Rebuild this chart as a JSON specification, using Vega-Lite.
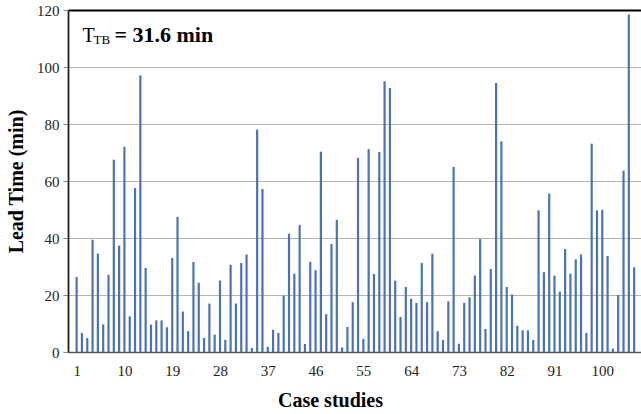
{
  "$schema": "https://vega.github.io/schema/vega-lite/v6.json",
  "width": 573,
  "height": 342,
  "autosize": {"type": "none"},
  "padding": {"left": 68, "top": 10, "right": 0, "bottom": 62},
  "background": "white",
  "config": {
    "view": {"stroke": null},
    "font": "Times New Roman, Liberation Serif, serif",
    "axis": {"labelFont": "Times New Roman, Liberation Serif, serif", "titleFont": "Times New Roman, Liberation Serif, serif"},
    "text": {"font": "Times New Roman, Liberation Serif, serif"}
  },
  "datasets": {
    "cases": [
      {"case": 1, "lead": 26.3}, {"case": 2, "lead": 6.7}, {"case": 3, "lead": 4.9}, {"case": 4, "lead": 39.4},
      {"case": 5, "lead": 34.5}, {"case": 6, "lead": 9.7}, {"case": 7, "lead": 27.1}, {"case": 8, "lead": 67.5},
      {"case": 9, "lead": 37.3}, {"case": 10, "lead": 72.0}, {"case": 11, "lead": 12.5}, {"case": 12, "lead": 57.5},
      {"case": 13, "lead": 97.0}, {"case": 14, "lead": 29.5}, {"case": 15, "lead": 9.6}, {"case": 16, "lead": 11.1},
      {"case": 17, "lead": 11.1}, {"case": 18, "lead": 8.7}, {"case": 19, "lead": 33.0}, {"case": 20, "lead": 47.4},
      {"case": 21, "lead": 14.2}, {"case": 22, "lead": 7.3}, {"case": 23, "lead": 31.6}, {"case": 24, "lead": 24.3},
      {"case": 25, "lead": 4.9}, {"case": 26, "lead": 17.0}, {"case": 27, "lead": 6.1}, {"case": 28, "lead": 25.1},
      {"case": 29, "lead": 4.3}, {"case": 30, "lead": 30.6}, {"case": 31, "lead": 17.0}, {"case": 32, "lead": 31.2},
      {"case": 33, "lead": 34.2}, {"case": 34, "lead": 1.4}, {"case": 35, "lead": 78.0}, {"case": 36, "lead": 57.2},
      {"case": 37, "lead": 1.8}, {"case": 38, "lead": 7.8}, {"case": 39, "lead": 6.7}, {"case": 40, "lead": 19.8},
      {"case": 41, "lead": 41.5}, {"case": 42, "lead": 27.5}, {"case": 43, "lead": 44.6}, {"case": 44, "lead": 2.8},
      {"case": 45, "lead": 31.6}, {"case": 46, "lead": 28.7}, {"case": 47, "lead": 70.3}, {"case": 48, "lead": 13.3},
      {"case": 49, "lead": 37.9}, {"case": 50, "lead": 46.4}, {"case": 51, "lead": 1.6}, {"case": 52, "lead": 8.8},
      {"case": 53, "lead": 17.5}, {"case": 54, "lead": 68.1}, {"case": 55, "lead": 4.6}, {"case": 56, "lead": 71.2},
      {"case": 57, "lead": 27.4}, {"case": 58, "lead": 70.2}, {"case": 59, "lead": 95.0}, {"case": 60, "lead": 92.6},
      {"case": 61, "lead": 25.0}, {"case": 62, "lead": 12.3}, {"case": 63, "lead": 22.8}, {"case": 64, "lead": 18.7},
      {"case": 65, "lead": 17.2}, {"case": 66, "lead": 31.2}, {"case": 67, "lead": 17.5}, {"case": 68, "lead": 34.5},
      {"case": 69, "lead": 7.3}, {"case": 70, "lead": 4.2}, {"case": 71, "lead": 17.8}, {"case": 72, "lead": 64.9},
      {"case": 73, "lead": 2.9}, {"case": 74, "lead": 17.2}, {"case": 75, "lead": 19.2}, {"case": 76, "lead": 26.8},
      {"case": 77, "lead": 39.6}, {"case": 78, "lead": 8.1}, {"case": 79, "lead": 29.1}, {"case": 80, "lead": 94.4},
      {"case": 81, "lead": 73.9}, {"case": 82, "lead": 22.8}, {"case": 83, "lead": 20.2}, {"case": 84, "lead": 9.2},
      {"case": 85, "lead": 7.6}, {"case": 86, "lead": 7.6}, {"case": 87, "lead": 4.2}, {"case": 88, "lead": 49.7},
      {"case": 89, "lead": 28.0}, {"case": 90, "lead": 55.6}, {"case": 91, "lead": 26.8}, {"case": 92, "lead": 21.2},
      {"case": 93, "lead": 36.1}, {"case": 94, "lead": 27.5}, {"case": 95, "lead": 32.5}, {"case": 96, "lead": 34.2},
      {"case": 97, "lead": 6.7}, {"case": 98, "lead": 73.1}, {"case": 99, "lead": 49.7}, {"case": 100, "lead": 49.9},
      {"case": 101, "lead": 33.7}, {"case": 102, "lead": 1.2}, {"case": 103, "lead": 20.0}, {"case": 104, "lead": 63.6},
      {"case": 105, "lead": 118.4}, {"case": 106, "lead": 29.7}
    ],
    "note": [{"label": "T_TB", "value": 31.6}]
  },
  "layer": [
    {
      "data": {"name": "cases"},
      "mark": {"type": "bar", "color": "#4a72b8", "size": 2.2},
      "encoding": {
        "x": {
          "field": "case", "type": "quantitative",
          "scale": {"domain": [0.316, 106.35], "nice": false, "zero": false},
          "axis": {
            "values": [1, 10, 19, 28, 37, 46, 55, 64, 73, 82, 91, 100],
            "title": "Case studies",
            "titleFontSize": 20, "titleFontWeight": "bold", "titleColor": "#000",
            "titleX": 262, "titleY": 38, "titleBaseline": "top", "titleAnchor": "middle", "titleAlign": "center",
            "labelFontSize": 15, "labelColor": "#222",
            "labelPadding": 11, "ticks": false, "grid": false,
            "domainColor": "#555", "domainWidth": 1.5, "labelOverlap": false, "labelFlush": false
          }
        },
        "y": {
          "field": "lead", "type": "quantitative",
          "scale": {"domain": [0, 120], "nice": false},
          "axis": {
            "values": [0, 20, 40, 60, 80, 100, 120],
            "title": "Lead Time (min)",
            "titleFontSize": 20, "titleFontWeight": "bold", "titleColor": "#000",
            "titlePadding": 10,
            "labelFontSize": 15, "labelColor": "#222",
            "labelPadding": 4, "tickSize": 5, "tickColor": "#888",
            "domainColor": "#222", "domainWidth": 1.8,
            "grid": true,
            "gridColor": {"condition": {"test": "datum.value === 120", "value": "#000"}, "value": "#b4b4b4"},
            "gridWidth": {"condition": {"test": "datum.value === 120", "value": 2}, "value": 1}
          }
        }
      }
    },
    {
      "data": {"name": "note"},
      "mark": {"type": "text", "text": "T", "fontSize": 20, "align": "left", "baseline": "alphabetic", "color": "#000"},
      "encoding": {"x": {"datum": 2.1}, "y": {"datum": 108.8}}
    },
    {
      "data": {"name": "note"},
      "mark": {"type": "text", "text": "TB", "fontSize": 13, "align": "left", "baseline": "alphabetic", "color": "#000", "dx": 11, "dy": 2},
      "encoding": {"x": {"datum": 2.1}, "y": {"datum": 108.8}}
    },
    {
      "data": {"name": "note"},
      "mark": {"type": "text", "text": "= 31.6 min", "fontSize": 22, "fontWeight": "bold", "align": "left", "baseline": "alphabetic", "color": "#000", "dx": 32},
      "encoding": {"x": {"datum": 2.1}, "y": {"datum": 108.8}}
    }
  ]
}
